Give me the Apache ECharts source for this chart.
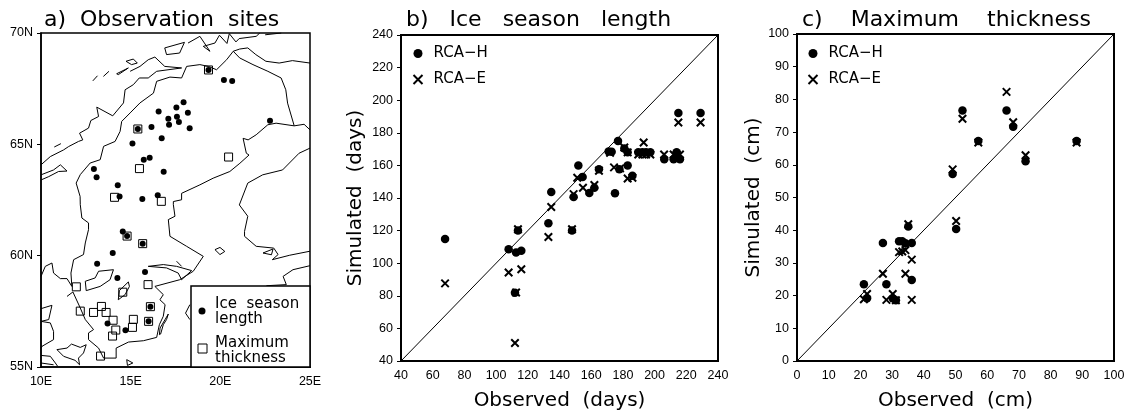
<!DOCTYPE html>
<html>
<head>
<meta charset="utf-8">
<script src="https://cdn.jsdelivr.net/npm/echarts@6/dist/echarts.min.js"></script>
<style>
html, body, #main { margin: 0; width: 1126px; height: 411px; background: #fff; }
</style>
</head>
<body>
<div id="main"></div>
<script>
// panel a: sites, lon/lat degrees
var iceSites = [[19.34,68.34],[20.2,67.89],[20.66,67.84],[17.95,66.89],[16.56,66.47],[17.55,66.65],[18.19,66.42],[17.1,66.15],[17.58,66.24],[17.69,66.0],[17.14,65.88],[18.29,65.72],[16.16,65.78],[15.4,65.69],[22.77,66.06],[16.73,65.27],[15.1,65.04],[16.06,64.4],[15.73,64.31],[12.95,63.89],[13.1,63.52],[16.84,63.77],[14.28,63.16],[14.38,62.66],[15.65,62.54],[16.51,62.71],[14.56,61.09],[14.8,60.88],[15.67,60.54],[14.0,60.12],[13.13,59.64],[14.26,59.0],[15.8,59.27],[16.1,57.71],[16.0,57.05],[13.71,56.95],[14.71,56.65]];
var thicknessSites = [[19.34,68.34],[20.46,64.43],[15.4,65.69],[15.49,63.91],[14.1,62.62],[16.71,62.44],[14.8,60.88],[15.67,60.54],[15.97,58.7],[11.97,58.6],[12.19,57.51],[12.93,57.45],[13.37,57.72],[13.63,57.45],[14.02,57.1],[15.15,57.14],[15.1,56.78],[14.17,56.66],[13.99,56.39],[13.32,55.49],[14.56,58.36],[16.1,57.71],[16.0,57.05]];

// panel a: coastlines and borders, lon/lat degrees
var mapLines = [
  [[25,65.65],[24.67,65.9],[24.12,65.83],[23.11,65.95],[22.65,65.88],[22.0,65.43],[21.55,65.2],[21.27,65.27],[21.45,64.6],[21.6,64.52],[21.09,64.15],[20.53,63.78],[19.6,63.48],[18.86,63.18],[17.84,62.8],[17.84,62.51],[17.38,62.43],[17.38,62.29],[17.47,61.77],[17.1,61.62],[17.19,60.87],[18.12,60.42],[19.05,59.97],[18.49,59.3],[17.74,58.92],[16.35,58.62],[16.82,58.25],[16.63,58.02],[16.92,57.8],[16.82,57.28],[16.6,56.9],[16.45,56.33],[15.71,56.18],[14.88,56.12],[14.19,55.85],[14.19,55.4],[13.49,55.4],[13.21,55.85],[12.65,56.23],[12.65,56.53],[12.93,56.68],[12.47,57.13],[12.19,57.65],[11.78,58.37],[11.45,58.17]],
  [[11.08,58.97],[11.45,58.97],[11.72,58.62],[11.67,59.22],[11.82,59.82],[12.37,60.05],[12.47,60.57],[12.65,61.17],[12.65,61.47],[12.28,61.69],[12.19,62.29],[12.18,62.66],[11.96,63.26],[12.19,63.64],[12.74,64.16],[13.3,64.31],[13.49,64.91],[14.13,65.13],[14.41,65.58],[14.5,66.03],[14.97,66.41],[15.52,66.86],[16.27,67.3],[16.45,67.83],[17.19,68.02],[17.84,67.98],[18.12,68.5],[18.86,68.58],[19.33,68.5],[19.79,68.35],[20.35,68.8],[20.72,69.18],[21.08,69.28],[21.53,69.33],[21.98,69.03],[22.54,68.73],[23.28,68.65],[24.02,68.76],[25,68.65]],
  [[20.72,69.18],[21.08,68.88],[21.82,68.58],[22.65,68.28],[23.39,67.98],[23.65,67.45],[23.75,66.85],[24.12,65.83]],
  [[25,64.83],[24.39,64.6],[23.47,63.85],[22.36,63.63],[21.53,63.26],[21.06,62.28],[21.53,61.77],[21.35,61.09],[21.35,60.87],[22,60.42],[22.98,60.34],[23.22,60.05],[22.9,59.82],[23.87,60.02],[25,60.2]],
  [[25,59.55],[24.05,59.37],[23.5,59.07],[23.68,58.7],[22.57,58.65]],
  [[18.3,57.8],[18.06,57.42],[18.3,57.13]],
  [[10,64.08],[10.52,64.45],[11.26,64.75],[11.54,64.9],[12.09,65.13],[12.33,65.2],[12.15,65.5],[12.65,65.73],[12.78,66.07],[13.21,66.25],[13.11,66.67],[14.0,66.28],[14.6,66.86],[14.69,67.45],[15.15,67.68],[15.48,67.98],[15.98,67.98],[16.45,68.28],[17.84,68.43],[16.9,68.5],[16.35,68.92],[15.98,68.8],[15.52,68.5],[14.97,68.28]],
  [[18.2,69.55],[18.86,69.85],[19.42,69.18],[19.05,69.4],[19.7,69.55],[19.95,69.9],[20.37,69.53],[20.5,69.97],[20.87,69.6],[21.05,69.75],[22,69.85],[22.2,70]],
  [[22.5,69.92],[23.4,70]],
  [[10,63.63],[10.7,63.85],[11.08,64.08],[11.45,63.8],[10.98,63.78],[10.43,63.55],[10,63.4]],
  [[16.9,69.33],[17,69.03],[17.73,69.1],[18.0,69.58],[16.9,69.33]],
  [[14.22,68.17],[14.87,68.43],[14.96,68.35],[14.31,68.13],[14.22,68.17]],
  [[14.74,68.73],[15.15,68.83],[15.37,68.65],[15.05,68.58],[14.74,68.73]],
  [[12.89,67.85],[13.15,68.08]],
  [[13.48,68.05],[13.79,68.28]],
  [[10.74,64.88],[11.11,65.03]],
  [[10,59.07],[10.24,59.52],[10.61,59.67],[10.7,59.22],[11.08,58.97]],
  [[10,57.62],[10.61,57.77],[10.43,57.13],[10,57.05]],
  [[10,57.05],[10.52,56.98],[10.7,56.6],[10.7,56.23],[10.06,55.93],[10,55.85]],
  [[10.89,55.78],[11.45,55.85],[11.7,56.03],[12.19,55.88],[12.52,56.0],[12.37,55.63],[12.09,55.4],[12.15,55.1],[11.9,55.3],[11.26,55.48],[10.89,55.78]],
  [[10,55.52],[10.52,55.48],[10.8,55.18],[10.93,55.03]],
  [[10,55.18],[10.7,55.1]],
  [[14.78,55.33],[15.12,55.18],[14.82,55.07],[14.78,55.33]],
  [[16.6,56.45],[16.64,56.75],[17.1,57.38],[17.0,57.13],[16.82,56.9],[16.67,56.48],[16.6,56.45]],
  [[19.7,60.27],[19.98,60.37],[20.25,60.19],[19.98,60.05],[19.7,60.27]],
  [[22.38,60.12],[22.94,60.3],[22.85,60.04],[22.38,60.12]],
  [[15.98,59.52],[16.82,59.6],[17.56,59.52],[18.4,59.33],[17.84,58.92],[17.65,59.22],[17,59.45],[15.98,59.52]],
  [[17.56,59.75],[17.84,59.52]],
  [[12.47,58.85],[13.02,59.0],[13.21,59.3],[14.04,59.37],[13.85,58.92],[13.3,58.62],[12.52,58.43],[12.47,58.85]],
  [[14.31,58.02],[14.37,58.43],[14.87,58.82],[14.93,58.62],[14.69,58.25],[14.31,58.02]]
];

// panel b: ice season length, observed vs simulated (days)
var iceH = [[67.8,114.9],[107.9,108.6],[112.6,106.5],[115.9,107.6],[111.9,81.8],[113.8,120],[133,124.5],[134.8,143.7],[147.9,120],[148.9,140.6],[151.9,160],[154.6,152.9],[158.8,143.1],[162,146.3],[164.9,157.6],[171,168.6],[172.9,168.4],[176.9,174.9],[175,142.9],[177.8,157.6],[180.9,170.4],[183,168],[183,160],[186,153.7],[189.7,168],[192.3,168],[194.6,168],[197.3,168],[206.1,163.7],[212,163.7],[213.9,168],[216,163.7],[215,192.2],[229,192.2]];
var iceE = [[67.8,87.6],[107.9,94.3],[115.9,96.3],[112.6,82],[111.9,51],[113.8,120.8],[133,116.1],[134.8,134.5],[147.9,120.8],[148.9,142.4],[151.2,152.4],[154.8,146.3],[162,148],[164.9,156.7],[171.9,167.8],[174.4,158.8],[178.2,158.2],[180.9,171],[183,168],[183,152],[186,152.4],[193.1,174],[189.7,166.7],[192.3,166.7],[194.6,166.7],[197.3,166.7],[206,166.7],[212,166.7],[214,166.7],[216,166.7],[215,186.3],[229,186.3]];

// panel c: maximum thickness, observed vs simulated (cm)
var thickH = [[52.2,76.6],[66.1,76.6],[68.2,71.6],[57.2,67.3],[88.2,67.3],[72.1,61.1],[49.1,57.2],[50.2,40.4],[35.1,41.1],[27.1,36.1],[32.2,36.6],[33.2,36.6],[34.2,36],[36.2,36.1],[21.1,23.5],[28.2,23.5],[36.2,24.8],[22.1,19.2],[30.2,19.2],[31.2,18.6]];
var thickE = [[52.2,74.1],[66.1,82.3],[68.2,73],[57.2,66.8],[88.2,66.8],[72.1,62.9],[49.1,58.6],[50.2,42.8],[35.1,41.8],[27.1,26.7],[32.2,33.3],[33.2,33.5],[34.2,33.9],[36.2,31],[34.2,26.7],[21.1,18.9],[22.1,20.5],[28.2,18.7],[30.2,20.5],[31.2,18.6],[36.2,18.7]];

var iceLine = [[40,40],[240,240]];
var thickLine = [[0,0],[100,100]];

var crossIcon = 'path://M1 1L9 9M9 1L1 9';
var titleFont = {fontFamily: 'DejaVu Sans', fontSize: 22, fontWeight: 'normal', color: '#000'};
var tickFont = {fontFamily: 'Liberation Sans', fontSize: 12.5, color: '#000', margin: 8};
var labelFont = {fontFamily: 'DejaVu Sans', fontSize: 20, color: '#000'};

function mapAxis(min, max, unit) {
    return {
        type: 'value', min: min, max: max, interval: 5,
        splitLine: {show: false},
        axisLine: {lineStyle: {color: '#000', width: 1.5}},
        axisTick: {length: unit == 'N' ? 4 : 1, lineStyle: {color: '#000', width: 1}},
        axisLabel: Object.assign({formatter: '{value}' + unit}, tickFont)
    };
}

function scatterAxis(min, max, interval, name, gap, tick) {
    return {
        type: 'value', min: min, max: max, interval: interval,
        name: name, nameLocation: 'middle', nameGap: gap, nameTextStyle: labelFont,
        splitLine: {show: false},
        axisLine: {lineStyle: {color: '#000', width: 2}},
        axisTick: {length: tick, lineStyle: {color: '#000', width: 1}},
        axisLabel: tickFont
    };
}

function scatterSeries(name, idx, data, isCross) {
    return {
        name: name, type: 'scatter', xAxisIndex: idx, yAxisIndex: idx, data: data,
        symbol: isCross ? crossIcon : 'circle',
        symbolSize: isCross ? 7.5 : 8.5,
        itemStyle: isCross ? {color: 'none', borderColor: '#000', borderWidth: 2, opacity: 1} : {color: '#000', opacity: 1},
        z: isCross ? 3 : 4, silent: true
    };
}

function legendFor(left) {
    return {
        left: left, top: 46, orient: 'vertical', selectedMode: false, padding: 0,
        itemWidth: 11, itemHeight: 9, itemGap: 11,
        textStyle: {fontFamily: 'DejaVu Sans', fontSize: 15, color: '#000', padding: [0, 0, 0, 5]},
        data: [
            {name: 'RCA−H', icon: 'circle', itemStyle: {color: '#000'}},
            {name: 'RCA−E', icon: crossIcon, itemStyle: {color: 'none', borderColor: '#000', borderWidth: 2}}
        ]
    };
}

var series = mapLines.map(function (line) {
    return {
        type: 'line', xAxisIndex: 0, yAxisIndex: 0, data: line, showSymbol: false, silent: true,
        lineStyle: {color: '#000', width: 1}, z: 2
    };
});
series.push({
    type: 'scatter', xAxisIndex: 0, yAxisIndex: 0, data: thicknessSites, symbol: 'rect', symbolSize: 8,
    itemStyle: {color: 'none', borderColor: '#000', borderWidth: 1, opacity: 1}, z: 3, silent: true
});
series.push({
    type: 'scatter', xAxisIndex: 0, yAxisIndex: 0, data: iceSites, symbol: 'circle', symbolSize: 6,
    itemStyle: {color: '#000', opacity: 1}, z: 4, silent: true
});
[[1, iceLine, iceH, iceE], [2, thickLine, thickH, thickE]].forEach(function (p) {
    series.push({
        type: 'line', xAxisIndex: p[0], yAxisIndex: p[0], data: p[1], showSymbol: false, silent: true,
        lineStyle: {color: '#000', width: 1}, z: 2
    });
    series.push(scatterSeries('RCA−E', p[0], p[3], true));
    series.push(scatterSeries('RCA−H', p[0], p[2], false));
});

var chart = echarts.init(document.getElementById('main'), null, {renderer: 'canvas'});
chart.setOption({
    animation: false,
    backgroundColor: '#fff',
    title: [
        {text: 'a)  Observation  sites', left: 44, top: 9, padding: 0, textStyle: titleFont},
        {text: 'b)   Ice   season   length', left: 406, top: 9, padding: 0, textStyle: titleFont},
        {text: 'c)    Maximum    thickness', left: 802, top: 9, padding: 0, textStyle: titleFont}
    ],
    legend: [legendFor(411), legendFor(806)],
    grid: [
        {left: 41, top: 33, width: 269, height: 334, show: true, borderColor: '#000', borderWidth: 1.5, outerBoundsMode: 'none'},
        {left: 401, top: 35, width: 317, height: 326, show: true, borderColor: '#000', borderWidth: 2, outerBoundsMode: 'none'},
        {left: 797, top: 34, width: 317, height: 327, show: true, borderColor: '#000', borderWidth: 2, outerBoundsMode: 'none'}
    ],
    xAxis: [
        Object.assign(mapAxis(10, 25, 'E'), {gridIndex: 0}),
        Object.assign(scatterAxis(40, 240, 20, 'Observed  (days)', 30, 1), {gridIndex: 1}),
        Object.assign(scatterAxis(0, 100, 10, 'Observed  (cm)', 30, 1), {gridIndex: 2})
    ],
    yAxis: [
        Object.assign(mapAxis(55, 70, 'N'), {gridIndex: 0}),
        Object.assign(scatterAxis(40, 240, 20, 'Simulated  (days)', 35, 4), {gridIndex: 1}),
        Object.assign(scatterAxis(0, 100, 10, 'Simulated  (cm)', 30, 4), {gridIndex: 2})
    ],
    series: series,
    graphic: [
        {type: 'rect', z: 10, shape: {x: 191, y: 286, width: 119, height: 81}, style: {fill: '#fff', stroke: '#000', lineWidth: 1.5}},
        {type: 'circle', z: 11, shape: {cx: 202, cy: 311, r: 3.5}, style: {fill: '#000'}},
        {type: 'rect', z: 11, shape: {x: 198, y: 344, width: 9, height: 9}, style: {fill: 'none', stroke: '#000', lineWidth: 1}},
        {type: 'text', z: 11, x: 215, y: 297, style: {text: 'Ice  season\nlength', font: '15px "DejaVu Sans"', lineHeight: 15, fill: '#000'}},
        {type: 'text', z: 11, x: 215, y: 336, style: {text: 'Maximum\nthickness', font: '15px "DejaVu Sans"', lineHeight: 15, fill: '#000'}}
    ]
});
window.onresize = chart.resize;
</script>
</body>
</html>
